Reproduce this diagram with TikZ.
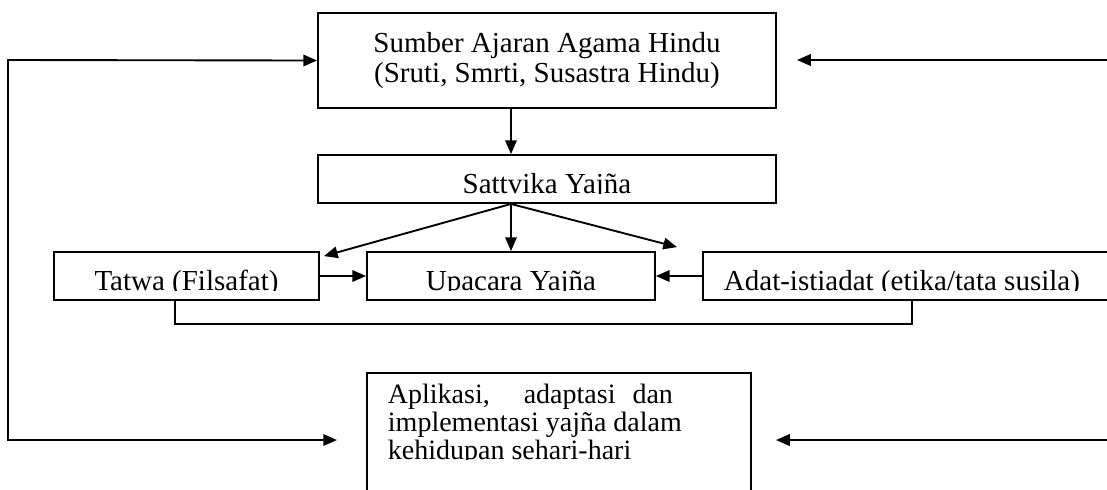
\documentclass[tikz,border=0pt]{standalone}
\usepackage{fontspec}
\setmainfont{Liberation Serif}
\usetikzlibrary{arrows.meta}
\newcommand\diagfont{\fontsize{11.6}{12}\selectfont}
\newcommand\diagfontrapat{\fontsize{11.2}{11.2}\selectfont}
\tikzset{
  box/.style={draw, line width=0.75pt, inner sep=0pt},
  tulisan/.style={draw=none, minimum width=0pt, minimum height=0pt, inner sep=0pt, font=\diagfont},
  arr/.style={-{Triangle[length=5.5pt,width=4.6pt]}, line width=0.75pt},
  arrtwo/.style={{Triangle[length=5.5pt,width=4.6pt]}-{Triangle[length=5.5pt,width=4.6pt]}, line width=0.75pt},
  inbox/.style={path picture={
      \clip (path picture bounding box.north west) rectangle ([yshift=3.7pt]path picture bounding box.south east);
      \node[tulisan, anchor=base] at ([yshift=4pt]path picture bounding box.south) {#1};}},
}
\begin{document}
\begin{tikzpicture}[x=0.4pt, y=-0.4pt]
    \useasboundingbox (0,0) rectangle (1107,489);
    \node[box, minimum width=183.2pt, minimum height=38pt, align=center, font=\diagfont] (sumber) at (547,60.5)
        {Sumber Ajaran Agama Hindu\\(Sruti, Smrti, Susastra Hindu)};
    \node[box, minimum width=183.2pt, minimum height=19.2pt, inbox={Sattvika Yajña}] (sattvika) at (547,179) {};
    \node[box, minimum width=106pt, minimum height=19.2pt, inbox={Tatwa (Filsafat)}] (tatwa) at (186.5,276) {};
    \node[box, minimum width=115.2pt, minimum height=19.2pt, inbox={Upacara Yajña}] (upacara) at (511,276) {};
    \node[box, minimum width=166.8pt, minimum height=19.2pt,
        path picture={
            \clip (path picture bounding box.north west) rectangle ([yshift=3.7pt]path picture bounding box.south east);
            \node[tulisan, anchor=base west] at ([xshift=8pt,yshift=4pt]path picture bounding box.south west) {Adat-istiadat (etika/tata susila)};}] (adat) at (911.5,276) {};
    \node[box, minimum width=153.6pt, minimum height=58.8pt,
        path picture={
            \clip (path picture bounding box.north west) rectangle ([yshift=-34.4pt]path picture bounding box.north east);
            \node[tulisan, anchor=north west, align=left, font=\diagfontrapat]
                at ([xshift=8pt,yshift=-4pt]path picture bounding box.north west)
                {\makebox[114pt][s]{Aplikasi,\hspace{0.5em plus 2fil}adaptasi\hspace{0.25em plus 1fil}dan}\\implementasi yajña dalam\\kehidupan sehari-hari};
        }] (aplikasi) at (559,446.5) {};

    % umpan balik kiri dan kanan
    \coordinate (kiri) at (8,60);
    \coordinate (kiribawah) at (337,440);
    \coordinate (kanan) at (1110,60);
    \coordinate (kananujung) at (797,60);
    \coordinate (kananbawah) at (1110,440);
    \coordinate (kananbawahujung) at (776,440);
    \draw[arrtwo] (kiribawah) -| (kiri) -- (sumber.west);
    \draw[arr] (kanan) -- (kananujung);
    \draw[arr] (kananbawah) -- (kananbawahujung);

    \draw[arr] ([xshift=-14.4pt]sumber.south) -- ([xshift=-14.4pt]sattvika.north);
    \coordinate (sv) at ([xshift=-14.4pt]sattvika.south);
    \draw[arr] (sv) -- (upacara.north);
    \draw[arr] (sv) -- ([xshift=1.6pt,yshift=-2pt]tatwa.north east);
    \draw[arr] (sv) -- ([xshift=-10pt,yshift=1.6pt]adat.north west);
    \draw[arr] (tatwa.east) -- (upacara.west);
    \draw[arr] (adat.west) -- (upacara.east);
    \draw[line width=0.75pt] ([xshift=-4.6pt]tatwa.south) -- ++(0,-9.2pt) -| ([xshift=84pt]adat.south west);
\end{tikzpicture}
\end{document}
